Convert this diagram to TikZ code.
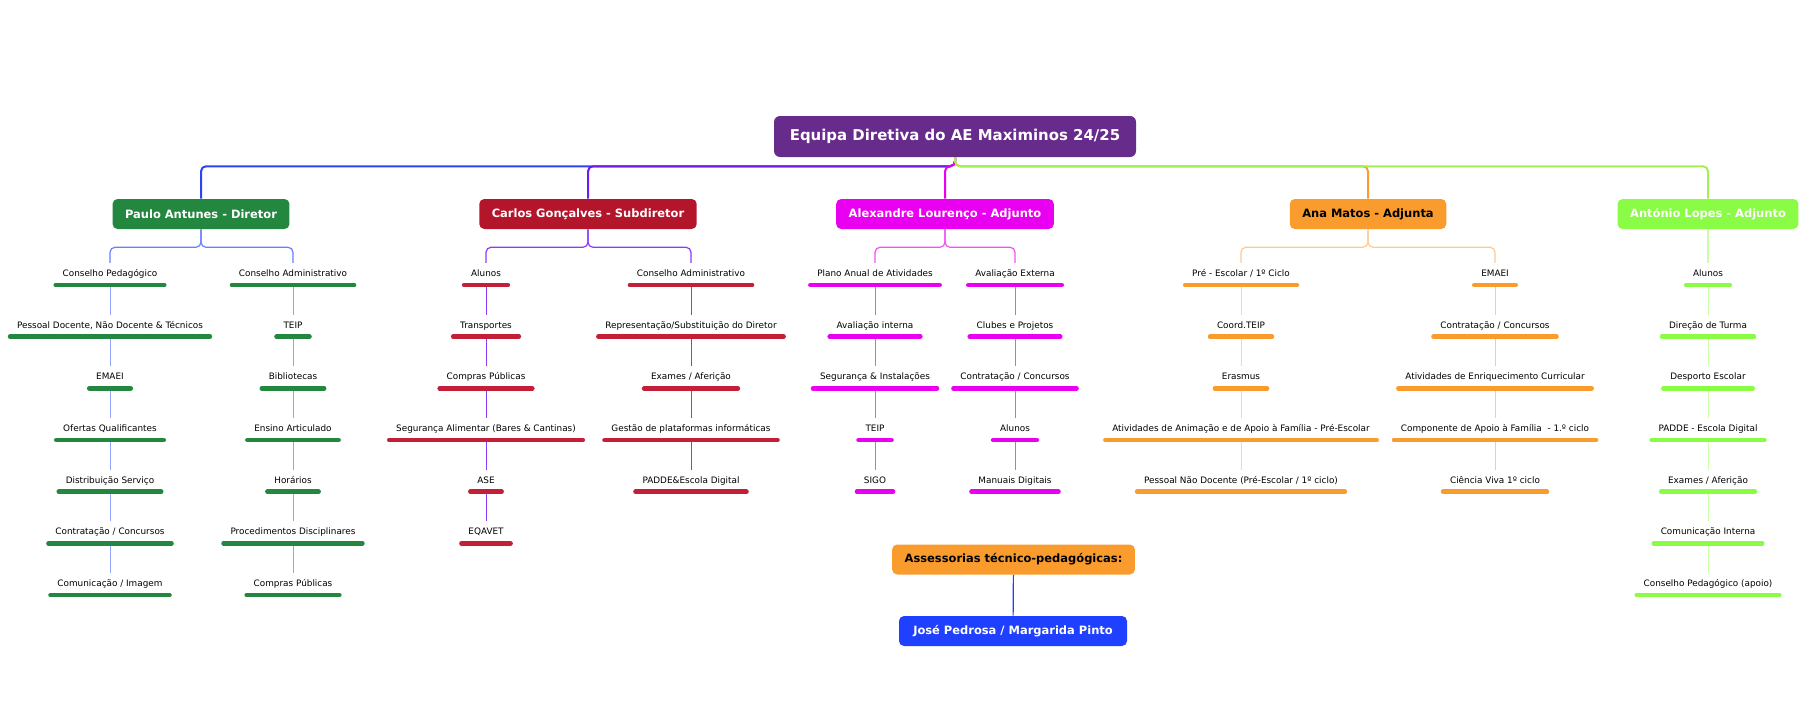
\documentclass[tikz,border=0pt]{standalone}
\usepackage{fontspec}
\setmainfont{DejaVu Sans}
\usetikzlibrary{positioning}

\definecolor{rootpurple}{HTML}{672B8C}
\definecolor{pgreen}{HTML}{23873F}
\definecolor{cred}{HTML}{B3152B}
\definecolor{cbar}{HTML}{C41F38}
\definecolor{amag}{HTML}{E900F0}
\definecolor{norange}{HTML}{F99B2D}
\definecolor{llime}{HTML}{8BFC45}
\definecolor{jblue}{HTML}{1F40FF}
\definecolor{pline}{HTML}{2B45F2}
\definecolor{pbranch}{HTML}{6680FF}
\definecolor{plink}{HTML}{95A5FF}
\definecolor{cline}{HTML}{6A1CF2}
\definecolor{cbranch}{HTML}{8A3BF7}
\definecolor{abranch}{HTML}{F050F7}
\definecolor{nbranch}{HTML}{FFC98F}
\definecolor{nlink}{HTML}{FFD4A6}
\definecolor{lline}{HTML}{A5F050}
\definecolor{lbranch}{HTML}{C8FFA5}

\newcommand\itemfont{\fontsize{6.65pt}{8pt}\selectfont}
\newcommand\headfont{\bfseries\fontsize{8.6pt}{10pt}\selectfont}
\newcommand\rootfont{\bfseries\fontsize{11.2pt}{13pt}\selectfont}

\begin{document}
\begin{tikzpicture}[
  x=0.75pt, y=-0.75pt,
  root/.style={fill=rootpurple, text=white, rounded corners=4.5pt, minimum width=271.5pt, minimum height=30.75pt, font=\rootfont},
  head/.style={fill=#1, rounded corners=3.75pt, minimum height=22.5pt, inner xsep=9.4pt, text=white, font=\headfont},
  item/.style={font=\itemfont, text height=5.25pt, text depth=1.5pt, inner xsep=6.75pt, inner ysep=4.7pt,
    append after command={(\tikzlastnode.south west) edge[draw=#1, line width=3.4pt, line cap=round, shorten <=1.7pt, shorten >=1.7pt] (\tikzlastnode.south east)}},
  bus/.style={draw=#1, line width=1.5pt, rounded corners=3.75pt},
  branch/.style={draw=#1, line width=0.9pt, rounded corners=3.75pt},
  link/.style={draw=#1, line width=0.7pt, shorten <=1.7pt},
  node distance=22.2pt
]
  \useasboundingbox (0,0) rectangle (1808,724);

  \node[root] (root) at (955,136.5) {Equipa Diretiva do AE Maximinos 24/25};

  \node[head=pgreen] (paulo) at (201,214) {Paulo Antunes - Diretor};
  \node[head=cred] (carlos) at (588,214) {Carlos Gonçalves - Subdiretor};
  \node[head=amag] (alex) at (945,214) {Alexandre Lourenço - Adjunto};
  \node[head=norange, text=black] (ana) at (1368,214) {Ana Matos - Adjunta};
  \node[head=llime] (antonio) at (1708,214) {António Lopes - Adjunto};

  \draw[bus=pline] (root.south) -- ++(0,9) -| (paulo.north);
  \draw[bus=cline] (root.south) -- ++(0,9) -| (carlos.north);
  \draw[bus=amag] (root.south) -- ++(0,9) -| (alex.north);
  \draw[bus=norange] (root.south) -- ++(0,9) -| (ana.north);
  \draw[bus=lline] (root.south) -- ++(0,9) -| (antonio.north);

  % Paulo Antunes
  \node[item=pgreen] (pa1) at (110,274) {Conselho Pedagógico};
  \node[item=pgreen, below=of pa1] (pa2) {Pessoal Docente, Não Docente \& Técnicos};
  \node[item=pgreen, below=of pa2] (pa3) {EMAEI};
  \node[item=pgreen, below=of pa3] (pa4) {Ofertas Qualificantes};
  \node[item=pgreen, below=of pa4] (pa5) {Distribuição Serviço};
  \node[item=pgreen, below=of pa5] (pa6) {Contratação / Concursos};
  \node[item=pgreen, below=of pa6] (pa7) {Comunicação / Imagem};

  \node[item=pgreen] (pb1) at (293,274) {Conselho Administrativo};
  \node[item=pgreen, below=of pb1] (pb2) {TEIP};
  \node[item=pgreen, below=of pb2] (pb3) {Bibliotecas};
  \node[item=pgreen, below=of pb3] (pb4) {Ensino Articulado};
  \node[item=pgreen, below=of pb4] (pb5) {Horários};
  \node[item=pgreen, below=of pb5] (pb6) {Procedimentos Disciplinares};
  \node[item=pgreen, below=of pb6] (pb7) {Compras Públicas};

  \draw[branch=pbranch] (paulo.south) -- ++(0,18) -| (pa1.north);
  \draw[branch=pbranch] (paulo.south) -- ++(0,18) -| (pb1.north);
  \draw[link=plink] (pa1) -- (pa2);
  \draw[link=plink] (pa2) -- (pa3);
  \draw[link=plink] (pa3) -- (pa4);
  \draw[link=plink] (pa4) -- (pa5);
  \draw[link=plink] (pa5) -- (pa6);
  \draw[link=plink] (pa6) -- (pa7);
  \draw[link=plink] (pb1) -- (pb2);
  \draw[link=plink] (pb2) -- (pb3);
  \draw[link=plink] (pb3) -- (pb4);
  \draw[link=plink] (pb4) -- (pb5);
  \draw[link=plink] (pb5) -- (pb6);
  \draw[link=plink] (pb6) -- (pb7);

  % Carlos Gonçalves
  \node[item=cbar] (ca1) at (486,274) {Alunos};
  \node[item=cbar, below=of ca1] (ca2) {Transportes};
  \node[item=cbar, below=of ca2] (ca3) {Compras Públicas};
  \node[item=cbar, below=of ca3] (ca4) {Segurança Alimentar (Bares \& Cantinas)};
  \node[item=cbar, below=of ca4] (ca5) {ASE};
  \node[item=cbar, below=of ca5] (ca6) {EQAVET};

  \node[item=cbar] (cb1) at (691,274) {Conselho Administrativo};
  \node[item=cbar, below=of cb1] (cb2) {Representação/Substituição do Diretor};
  \node[item=cbar, below=of cb2] (cb3) {Exames / Aferição};
  \node[item=cbar, below=of cb3] (cb4) {Gestão de plataformas informáticas};
  \node[item=cbar, below=of cb4] (cb5) {PADDE\&Escola Digital};

  \draw[branch=cbranch] (carlos.south) -- ++(0,18) -| (ca1.north);
  \draw[branch=cbranch] (carlos.south) -- ++(0,18) -| (cb1.north);
  \draw[link=cbranch] (ca1) -- (ca2);
  \draw[link=cbranch] (ca2) -- (ca3);
  \draw[link=cbranch] (ca3) -- (ca4);
  \draw[link=cbranch] (ca4) -- (ca5);
  \draw[link=cbranch] (ca5) -- (ca6);
  \draw[link=cbranch] (cb1) -- (cb2);
  \draw[link=cbranch] (cb2) -- (cb3);
  \draw[link=cbranch] (cb3) -- (cb4);
  \draw[link=cbranch] (cb4) -- (cb5);

  % Alexandre Lourenço
  \node[item=amag] (aa1) at (875,274) {Plano Anual de Atividades};
  \node[item=amag, below=of aa1] (aa2) {Avaliação interna};
  \node[item=amag, below=of aa2] (aa3) {Segurança \& Instalações};
  \node[item=amag, below=of aa3] (aa4) {TEIP};
  \node[item=amag, below=of aa4] (aa5) {SIGO};

  \node[item=amag] (ab1) at (1015,274) {Avaliação Externa};
  \node[item=amag, below=of ab1] (ab2) {Clubes e Projetos};
  \node[item=amag, below=of ab2] (ab3) {Contratação / Concursos};
  \node[item=amag, below=of ab3] (ab4) {Alunos};
  \node[item=amag, below=of ab4] (ab5) {Manuais Digitais};

  \draw[branch=abranch] (alex.south) -- ++(0,18) -| (aa1.north);
  \draw[branch=abranch] (alex.south) -- ++(0,18) -| (ab1.north);
  \draw[link=abranch] (aa1) -- (aa2);
  \draw[link=abranch] (aa2) -- (aa3);
  \draw[link=abranch] (aa3) -- (aa4);
  \draw[link=abranch] (aa4) -- (aa5);
  \draw[link=abranch] (ab1) -- (ab2);
  \draw[link=abranch] (ab2) -- (ab3);
  \draw[link=abranch] (ab3) -- (ab4);
  \draw[link=abranch] (ab4) -- (ab5);

  % Ana Matos
  \node[item=norange] (na1) at (1241,274) {Pré - Escolar / 1º Ciclo};
  \node[item=norange, below=of na1] (na2) {Coord.TEIP};
  \node[item=norange, below=of na2] (na3) {Erasmus};
  \node[item=norange, below=of na3] (na4) {Atividades de Animação e de Apoio à Família - Pré-Escolar};
  \node[item=norange, below=of na4] (na5) {Pessoal Não Docente (Pré-Escolar / 1º ciclo)};

  \node[item=norange] (nb1) at (1495,274) {EMAEI};
  \node[item=norange, below=of nb1] (nb2) {Contratação / Concursos};
  \node[item=norange, below=of nb2] (nb3) {Atividades de Enriquecimento Curricular};
  \node[item=norange, below=of nb3] (nb4) {Componente de Apoio à Família~ - 1.º ciclo};
  \node[item=norange, below=of nb4] (nb5) {Ciência Viva 1º ciclo};

  \draw[branch=nbranch] (ana.south) -- ++(0,18) -| (na1.north);
  \draw[branch=nbranch] (ana.south) -- ++(0,18) -| (nb1.north);
  \draw[link=nlink] (na1) -- (na2);
  \draw[link=nlink] (na2) -- (na3);
  \draw[link=nlink] (na3) -- (na4);
  \draw[link=nlink] (na4) -- (na5);
  \draw[link=nbranch] (nb1) -- (nb2);
  \draw[link=nbranch] (nb2) -- (nb3);
  \draw[link=nbranch] (nb3) -- (nb4);
  \draw[link=nbranch] (nb4) -- (nb5);

  % António Lopes
  \node[item=llime] (la1) at (1708,274) {Alunos};
  \node[item=llime, below=of la1] (la2) {Direção de Turma};
  \node[item=llime, below=of la2] (la3) {Desporto Escolar};
  \node[item=llime, below=of la3] (la4) {PADDE - Escola Digital};
  \node[item=llime, below=of la4] (la5) {Exames / Aferição};
  \node[item=llime, below=of la5] (la6) {Comunicação Interna};
  \node[item=llime, below=of la6] (la7) {Conselho Pedagógico (apoio)};

  \draw[branch=lbranch] (antonio) -- (la1);
  \draw[link=lbranch] (la1) -- (la2);
  \draw[link=lbranch] (la2) -- (la3);
  \draw[link=lbranch] (la3) -- (la4);
  \draw[link=lbranch] (la4) -- (la5);
  \draw[link=lbranch] (la5) -- (la6);
  \draw[link=lbranch] (la6) -- (la7);

  % Assessorias
  \node[head=norange, text=black, minimum width=180.75pt] (assess) at (1013.5,559.5) {Assessorias técnico-pedagógicas:};
  \node[head=jblue, minimum width=171pt] (jose) at (1013,631) {José Pedrosa / Margarida Pinto};
  \draw[branch=jblue] (assess) -- (jose);
\end{tikzpicture}
\end{document}
